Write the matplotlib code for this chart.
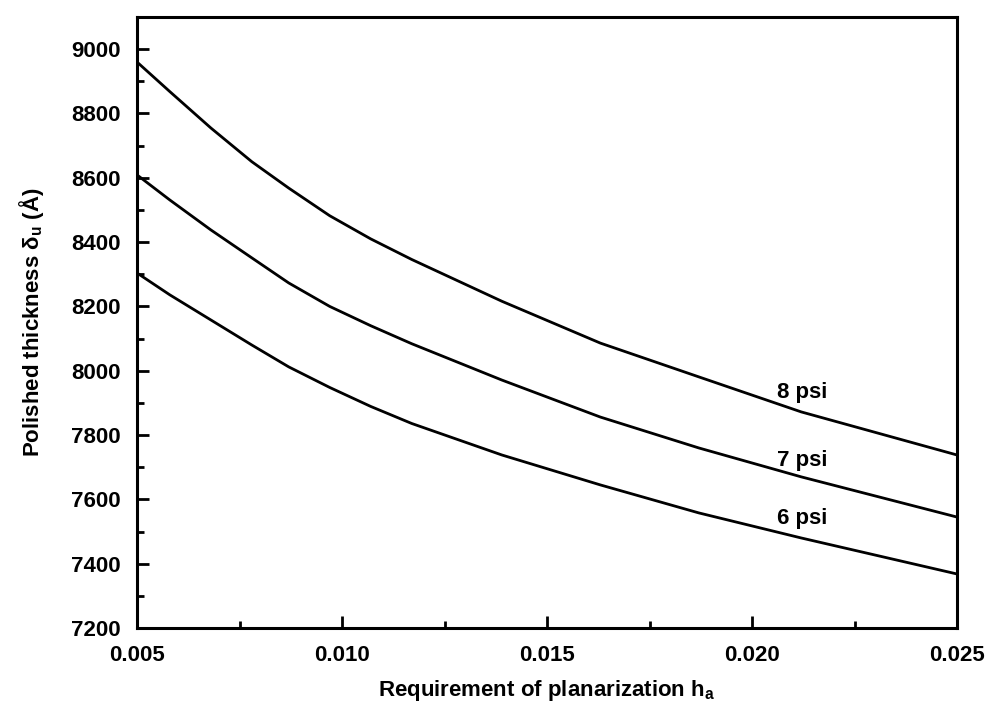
import matplotlib
matplotlib.use('Agg')
import matplotlib.pyplot as plt
from matplotlib.ticker import MultipleLocator, FormatStrFormatter

plt.rcParams['font.family'] = 'Liberation Sans'
plt.rcParams['font.weight'] = 'bold'
plt.rcParams['axes.labelweight'] = 'bold'
plt.rcParams['mathtext.fontset'] = 'custom'
plt.rcParams['mathtext.rm'] = 'Liberation Sans:bold'
plt.rcParams['mathtext.it'] = 'Liberation Sans:bold'
plt.rcParams['mathtext.bf'] = 'Liberation Sans:bold'
plt.rcParams['mathtext.default'] = 'bf'

# planarization requirement h_a and polished thickness (Angstrom) per pressure
h_a = [0.005, 0.0058, 0.0068, 0.0078, 0.0087, 0.0097, 0.0107, 0.0117,
       0.0139, 0.0163, 0.0187, 0.0212, 0.025]
t_8psi = [8960, 8868, 8755, 8650, 8568, 8482, 8410, 8346,
          8216, 8086, 7981, 7872, 7738]
t_7psi = [8609, 8531, 8438, 8351, 8273, 8200, 8140, 8084,
          7971, 7856, 7760, 7670, 7545]
t_6psi = [8304, 8236, 8158, 8080, 8012, 7948, 7889, 7836,
          7738, 7645, 7558, 7480, 7368]

labels = ['8 psi', '7 psi', '6 psi']
label_x = 0.0206
label_y = [7931, 7722, 7542]

fig = plt.figure(figsize=(9.9, 7.05), dpi=100, facecolor='white')
ax = fig.add_axes([0.1384, 0.1092, 0.8283, 0.8667])

for t in (t_8psi, t_7psi, t_6psi):
    ax.plot(h_a, t, color='black', lw=2.0, solid_joinstyle='round')

for lab, y in zip(labels, label_y):
    ax.text(label_x, y, lab, fontsize=16, ha='left', va='center')

ax.set_xlim(0.005, 0.025)
ax.set_ylim(7200, 9100)
ax.xaxis.set_major_locator(MultipleLocator(0.005))
ax.xaxis.set_minor_locator(MultipleLocator(0.0025))
ax.yaxis.set_major_locator(MultipleLocator(200))
ax.yaxis.set_minor_locator(MultipleLocator(100))
ax.xaxis.set_major_formatter(FormatStrFormatter('%.3f'))

ax.tick_params(which='both', direction='in', top=False, right=False,
               labelsize=16, width=2, pad=12)
ax.tick_params(which='major', length=8.5)
ax.tick_params(which='minor', length=5)
for s in ax.spines.values():
    s.set_linewidth(2.2)

ax.set_xlabel(r'Requirement of planarization h$_a$', fontsize=16, labelpad=9)
ax.set_ylabel(r'Polished thickness δ$_u$ (Å)', fontsize=16, labelpad=18)

fig.savefig('out.png', dpi=100, facecolor='white')
